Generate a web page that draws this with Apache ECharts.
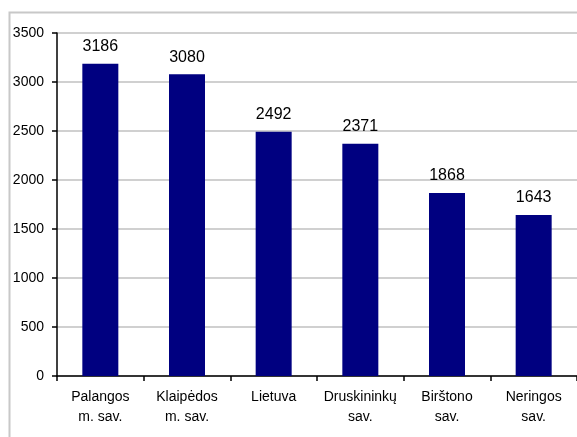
<!DOCTYPE html>
<html>
<head>
<meta charset="utf-8">
<script src="https://cdn.jsdelivr.net/npm/echarts@6/dist/echarts.min.js"></script>
<style>html,body{margin:0;padding:0;background:#fff;}#c{width:577px;height:437px;}</style>
</head>
<body>
<div id="c"></div>
<script>
var categories = ['Palangos\nm. sav.', 'Klaipėdos\nm. sav.', 'Lietuva', 'Druskininkų\nsav.', 'Birštono\nsav.', 'Neringos\nsav.'];
var values = [3186, 3080, 2492, 2371, 1868, 1643];
var yTicks = [0, 500, 1000, 1500, 2000, 2500, 3000, 3500];

var chart = echarts.init(document.getElementById('c'), null, {renderer: 'canvas'});
chart.setOption({
  animation: false,
  backgroundColor: '#fff',
  graphic: [{
    type: 'rect', left: 7, top: 10,
    shape: {width: 640, height: 500},
    style: {fill: 'none', stroke: '#c8c8c8', lineWidth: 2},
    silent: true, z: -1
  }],
  grid: {left: 57, top: 33, width: 528, height: 343, containLabel: false},
  xAxis: {
    type: 'category',
    data: categories,
    boundaryGap: true,
    axisLine: {lineStyle: {color: '#000', width: 1.5}},
    axisTick: {show: true, length: 5, lineStyle: {color: '#000', width: 1.5}},
    axisLabel: {color: '#000', fontFamily: 'Liberation Sans, Arial, sans-serif', fontSize: 14, lineHeight: 20, margin: 11, interval: 0}
  },
  yAxis: {
    type: 'value',
    min: yTicks[0], max: yTicks[yTicks.length - 1], interval: 500,
    axisLine: {show: true, lineStyle: {color: '#000', width: 1.5}},
    axisTick: {show: true, length: 5, lineStyle: {color: '#000', width: 1.5}},
    splitLine: {show: true, lineStyle: {color: '#c0c0c0', width: 1.5}},
    axisLabel: {color: '#000', fontFamily: 'Liberation Sans, Arial, sans-serif', fontSize: 14, margin: 13, formatter: function (v) { return String(v); }}
  },
  series: [{
    type: 'bar',
    data: values,
    barWidth: 36,
    itemStyle: {color: '#000080'},
    label: {show: true, position: 'top', distance: 9, color: '#000', fontFamily: 'Liberation Sans, Arial, sans-serif', fontSize: 16}
  }]
});
</script>
</body>
</html>
